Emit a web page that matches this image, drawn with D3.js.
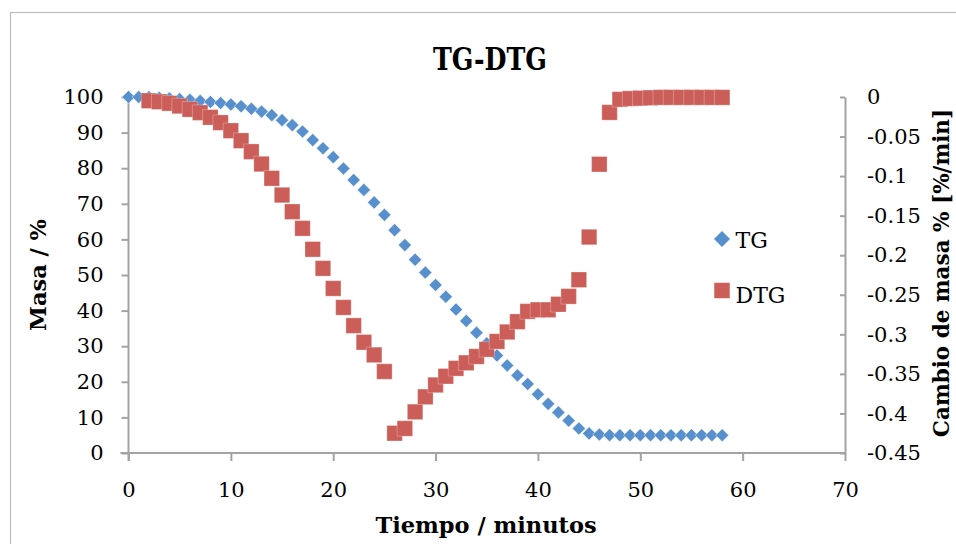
<!DOCTYPE html>
<html>
<head>
<meta charset="utf-8">
<script src="https://cdn.jsdelivr.net/npm/d3@7"></script>
<style>
  html, body { margin: 0; padding: 0; background: #fff; }
  svg { display: block; }
  text { font-family: "DejaVu Serif", serif; fill: #000; }
</style>
</head>
<body>
<svg id="chart" width="956" height="544"></svg>
<script>
// ---- data ----
const tgTime = d3.range(0, 59);           // minutes 0..58
const tgValues = [100,100,100,99.8,99.6,99.4,99.2,98.9,98.6,98.3,
  97.9,97.4,96.7,95.9,94.9,93.5,92.1,90.3,87.9,85.6,
  83.1,79.9,76.7,73.9,70.4,66.9,62.6,58.4,54.3,50.7,
  47.2,43.9,40.3,37.1,33.8,30.8,27.4,24.6,21.8,19.4,
  16.5,13.8,11.4,9.1,6.9,5.5,5.2,5,5,5,
  5,5,5,5,5,5,5,5,5];
const dtgTime = d3.range(2, 59);          // minutes 2..58
const dtgValues = [-0.0047,-0.006,-0.008,-0.0114,-0.0156,-0.0198,-0.0257,-0.0324,
  -0.0426,-0.0552,-0.0691,-0.0847,-0.1028,-0.1239,-0.145,-0.166,-0.1925,-0.2166,
  -0.242,-0.266,-0.289,-0.31,-0.326,-0.347,-0.425,-0.419,-0.398,-0.379,-0.364,
  -0.353,-0.343,-0.336,-0.328,-0.319,-0.309,-0.297,-0.284,-0.271,-0.269,-0.269,
  -0.262,-0.252,-0.231,-0.177,-0.085,-0.0195,-0.003,-0.002,-0.0015,-0.001,
  -0.0005,-0.0005,-0.0005,-0.0005,-0.0005,-0.0005,-0.0005];
const xTicks = [0,10,20,30,40,50,60,70];
const yLeftTicks = [0,10,20,30,40,50,60,70,80,90,100];
const yRightTicks = [0,-0.05,-0.1,-0.15,-0.2,-0.25,-0.3,-0.35,-0.4,-0.45];
const seriesNames = ["TG", "DTG"];
const titleText = "TG-DTG";
const xTitle = "Tiempo / minutos";
const yLeftTitle = "Masa / %";
const yRightTitle = "Cambio de masa % [%/min]";

// ---- layout ----
const blue = "#5790cc", red = "#cc5e59", axisColor = "#a3a3a3";
const svg = d3.select("#chart");
const plot = {left: 128.5, right: 845, top: 97, bottom: 453};

const x = d3.scaleLinear().domain([0, 70]).range([plot.left, plot.right]);
const yL = d3.scaleLinear().domain([0, 100]).range([plot.bottom, plot.top]);
const yR = d3.scaleLinear().domain([-0.45, 0]).range([plot.bottom, plot.top]);

// outer chart border
svg.append("rect").attr("x", 10.5).attr("y", 12.5).attr("width", 1000).attr("height", 600)
  .attr("fill", "none").attr("stroke", "#bdbdbd").attr("stroke-width", 1.2);

// title
svg.append("text").attr("x", 490).attr("y", 69.5).attr("text-anchor", "middle")
  .attr("font-weight", "bold").attr("font-size", 31)
  .attr("textLength", 114).attr("lengthAdjust", "spacingAndGlyphs")
  .text(titleText);

function styleAxis(g) {
  g.selectAll("path.domain").attr("stroke", axisColor).attr("stroke-width", 2);
  g.selectAll(".tick line").attr("stroke", axisColor).attr("stroke-width", 2);
  g.selectAll(".tick text").attr("font-family", "DejaVu Serif").attr("font-size", 21).attr("fill", "#000");
}

// x axis
const gx = svg.append("g").attr("transform", `translate(0,${plot.bottom})`)
  .call(d3.axisBottom(x).tickValues(xTicks).tickFormat(d3.format("d"))
    .tickSize(8).tickSizeOuter(0).tickPadding(21));
styleAxis(gx);
gx.select("path.domain").attr("d", `M${plot.left - 8},0H${plot.right}`);

// left axis
const gy = svg.append("g").attr("transform", `translate(${plot.left},0)`)
  .call(d3.axisLeft(yL).tickValues(yLeftTicks).tickFormat(d3.format("d"))
    .tickSize(7).tickSizeOuter(0).tickPadding(18));
styleAxis(gy);
gy.select("path.domain").attr("d", `M0,${plot.top}V${plot.bottom + 8}`);

// right axis
const gr = svg.append("g").attr("transform", `translate(${plot.right},0)`)
  .call(d3.axisRight(yR).tickValues(yRightTicks).tickFormat(d => d === 0 ? "0" : String(d))
    .tickSize(-5).tickSizeOuter(0).tickPadding(22));
styleAxis(gr);

// axis titles
svg.append("text").attr("x", 486).attr("y", 533).attr("text-anchor", "middle")
  .attr("font-weight", "bold").attr("font-size", 22.5).text(xTitle);
svg.append("text").attr("transform", "translate(46,275) rotate(-90)").attr("text-anchor", "middle")
  .attr("font-weight", "bold").attr("font-size", 22.5).text(yLeftTitle);
svg.append("text").attr("transform", "translate(949,273) rotate(-90)").attr("text-anchor", "middle")
  .attr("font-weight", "bold").attr("font-size", 21.5).text(yRightTitle);

// series: TG (diamonds)
const diamond = d3.symbol().type(d3.symbolSquare).size(86);
svg.append("g").selectAll("path").data(tgTime.map((t, i) => [t, tgValues[i]])).join("path")
  .attr("d", diamond)
  .attr("transform", d => `translate(${x(d[0])},${yL(d[1])}) rotate(45)`)
  .attr("fill", blue).attr("stroke", "rgba(255,255,255,0.55)").attr("stroke-width", 0.8);

// series: DTG (squares)
const square = d3.symbol().type(d3.symbolSquare).size(240);
svg.append("g").selectAll("path").data(dtgTime.map((t, i) => [t, dtgValues[i]])).join("path")
  .attr("d", square)
  .attr("transform", d => `translate(${x(d[0])},${yR(d[1])})`)
  .attr("fill", red).attr("stroke", "rgba(255,255,255,0.35)").attr("stroke-width", 0.8);

// legend
const lg = svg.append("g");
lg.append("path").attr("d", d3.symbol().type(d3.symbolSquare).size(128)())
  .attr("transform", "translate(722,239) rotate(45)").attr("fill", blue);
lg.append("text").attr("x", 735.5).attr("y", 248).attr("font-size", 22).text(seriesNames[0]);
lg.append("path").attr("d", d3.symbol().type(d3.symbolSquare).size(240)())
  .attr("transform", "translate(722,290.5)").attr("fill", red);
lg.append("text").attr("x", 735.5).attr("y", 302.5).attr("font-size", 22).text(seriesNames[1]);
</script>
</body>
</html>
